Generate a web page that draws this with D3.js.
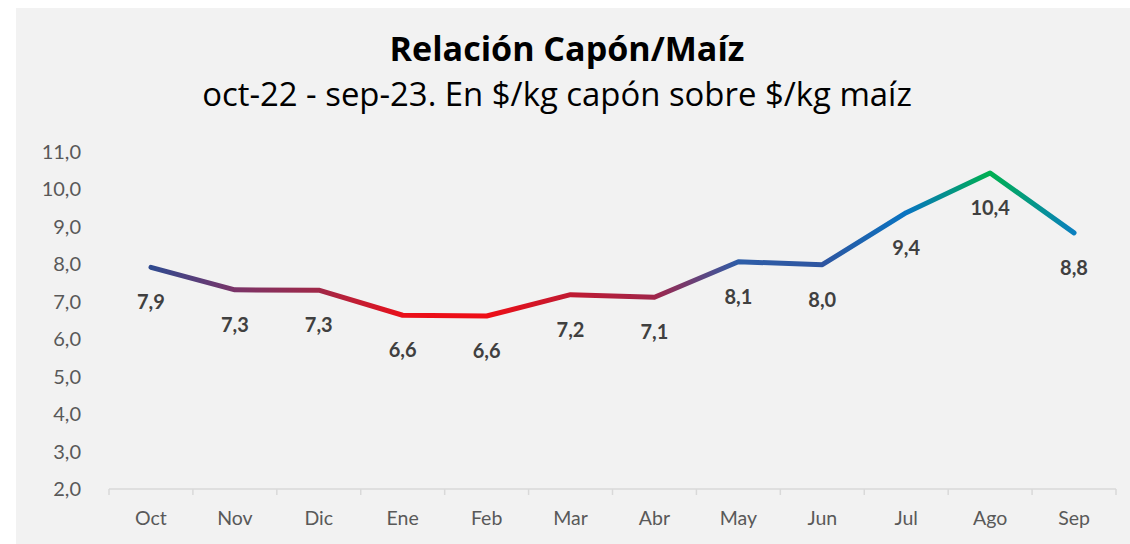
<!DOCTYPE html>
<html>
<head>
<meta charset="utf-8">
<script src="https://d3js.org/d3.v7.min.js"></script>
<style>
  body { margin: 0; background: #fff; }
  svg { display: block; }
  text { font-family: Lato, "Open Sans", sans-serif; }
  .title { font-family: "Open Sans", Lato, sans-serif; }
</style>
</head>
<body>
<svg id="chart"></svg>
<script>
// ========== data
const months = ['Oct', 'Nov', 'Dic', 'Ene', 'Feb', 'Mar', 'Abr', 'May', 'Jun', 'Jul', 'Ago', 'Sep'];
const ratio = [7.92, 7.32, 7.31, 6.64, 6.62, 7.19, 7.12, 8.07, 7.99, 9.38, 10.44, 8.84];
const lineColors = ['#2f4a8f', '#7a3468', '#a02848', '#ea101a', '#ee0e16', '#c01a32',
                    '#a0254a', '#2e5ea8', '#2f55a0', '#0874c2', '#00b050', '#0a7fbf'];
const yTicks = [2, 3, 4, 5, 6, 7, 8, 9, 10, 11];

const width = 1130, height = 544;
const margin = {top: 152, right: 14, bottom: 55, left: 109};

const svg = d3.select('#chart').attr('width', width).attr('height', height);

// panel
svg.append('rect')
  .attr('x', 16).attr('y', 8)
  .attr('width', width - 16).attr('height', height - 8)
  .attr('fill', '#f2f2f2');

const x = d3.scaleBand().domain(months).range([margin.left, width - margin.right]);
const y = d3.scaleLinear().domain([2, 11]).range([height - margin.bottom, margin.top]);
const fmt = v => d3.format('.1f')(v).replace('.', ',');

// scale font so the text spans the wanted width
function fitWidth(sel, size, target) {
  sel.attr('font-size', size);
  const len = sel.node().getComputedTextLength();
  sel.attr('font-size', size * target / len);
}

// titles
const t1 = svg.append('text')
  .attr('class', 'title')
  .attr('x', 567).attr('y', 61)
  .attr('text-anchor', 'middle')
  .attr('font-weight', 'bold').attr('fill', '#000')
  .text('Relación Capón/Maíz');
fitWidth(t1, 28, 355);
const t2 = svg.append('text')
  .attr('class', 'title')
  .attr('x', 557).attr('y', 106)
  .attr('text-anchor', 'middle')
  .attr('fill', '#000')
  .text('oct-22 - sep-23. En $/kg capón sobre $/kg maíz');
fitWidth(t2, 28, 710);

// y axis labels
svg.append('g')
  .selectAll('text')
  .data(yTicks)
  .enter().append('text')
  .attr('x', 81)
  .attr('y', d => y(d))
  .attr('dy', '0.35em')
  .attr('text-anchor', 'end')
  .attr('font-size', 20).attr('fill', '#595959')
  .text(fmt);

// x axis
const xAxis = svg.append('g')
  .attr('transform', `translate(0,${y(2)})`);
xAxis.append('line')
  .attr('x1', x.range()[0]).attr('x2', x.range()[1])
  .attr('stroke', '#d9d9d9').attr('stroke-width', 1.5);
xAxis.selectAll('line.tick')
  .data(months.map(m => x(m)).concat([x.range()[1]]))
  .enter().append('line')
  .attr('class', 'tick')
  .attr('x1', d => d).attr('x2', d => d)
  .attr('y1', 0).attr('y2', 6)
  .attr('stroke', '#d9d9d9').attr('stroke-width', 1.5);
xAxis.selectAll('text')
  .data(months)
  .enter().append('text')
  .attr('x', d => x(d) + x.bandwidth() / 2)
  .attr('y', 36)
  .attr('text-anchor', 'middle')
  .attr('font-size', 19.5).attr('fill', '#595959')
  .text(d => d);

// gradient stroke
const cx = d => x(d) + x.bandwidth() / 2;
const grad = svg.append('defs').append('linearGradient')
  .attr('id', 'lineGrad')
  .attr('gradientUnits', 'userSpaceOnUse')
  .attr('x1', cx(months[0])).attr('x2', cx(months[months.length - 1]))
  .attr('y1', 0).attr('y2', 0);
grad.selectAll('stop')
  .data(lineColors)
  .enter().append('stop')
  .attr('offset', (d, i) => i / (lineColors.length - 1))
  .attr('stop-color', d => d);

const line = d3.line()
  .x((d, i) => cx(months[i]))
  .y(d => y(d));

svg.append('path')
  .datum(ratio)
  .attr('d', line)
  .attr('fill', 'none')
  .attr('stroke', 'url(#lineGrad)')
  .attr('stroke-width', 5)
  .attr('stroke-linejoin', 'round')
  .attr('stroke-linecap', 'round');

// data labels
svg.append('g')
  .selectAll('text')
  .data(ratio)
  .enter().append('text')
  .attr('x', (d, i) => cx(months[i]))
  .attr('y', d => y(d) + 42)
  .attr('text-anchor', 'middle')
  .attr('font-size', 20).attr('font-weight', 'bold').attr('fill', '#404040')
  .text(fmt);
</script>
</body>
</html>
